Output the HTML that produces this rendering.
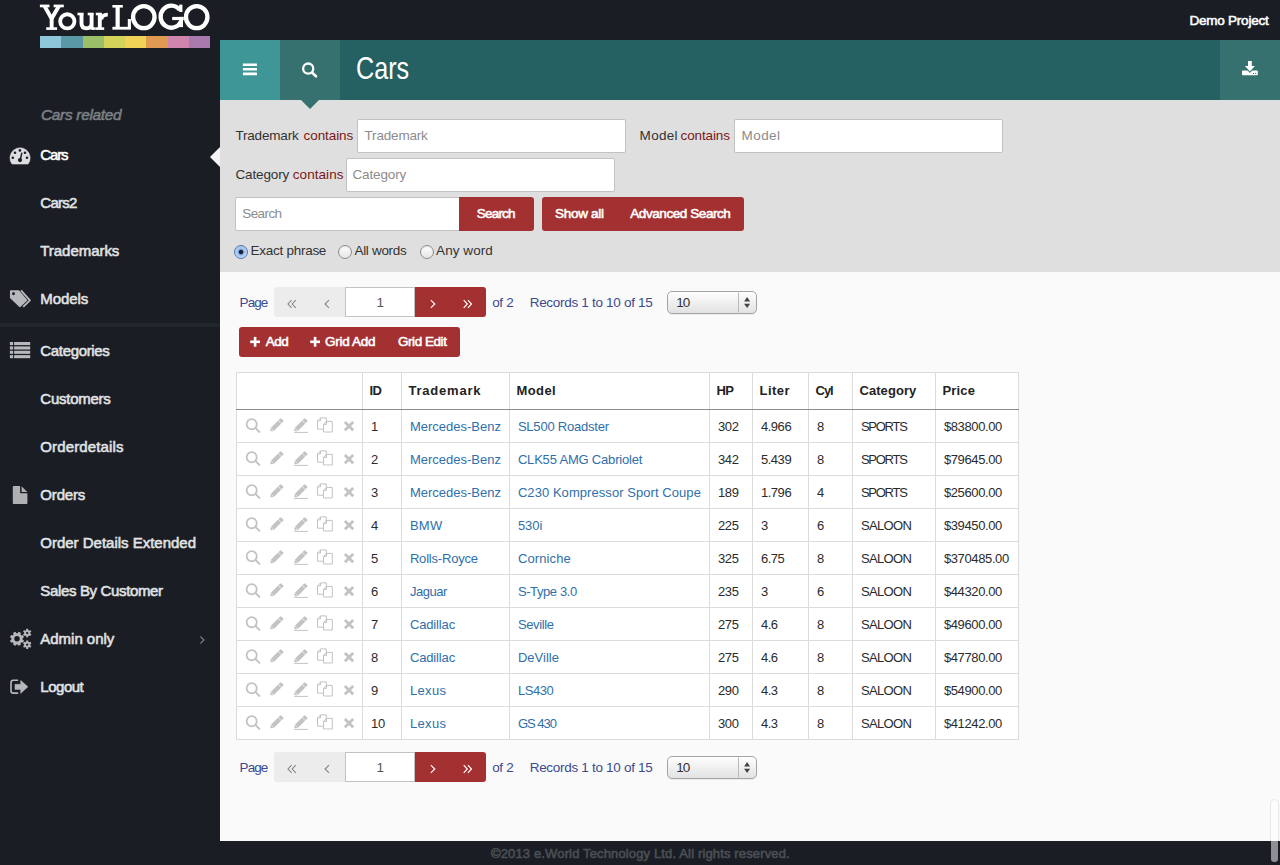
<!DOCTYPE html>
<html>
<head>
<meta charset="utf-8">
<title>Cars</title>
<style>
*{box-sizing:border-box;margin:0;padding:0}
html,body{width:1280px;height:865px;overflow:hidden}
body{background:#1a1e24;font-family:"Liberation Sans",sans-serif;font-size:13.5px;color:#333;position:relative}
.abs{position:absolute}
.t{position:absolute;white-space:nowrap;line-height:1}
svg{position:absolute;overflow:visible}
#strip{left:40px;top:36px;width:170px;height:12px;display:flex}
#strip i{display:block;flex:1}
.sb{-webkit-text-stroke:0.55px currentColor}
#demo{left:1189.5px;top:13.5px;font-size:13.5px;color:#fff}
.nav{left:40.3px;font-size:15px;color:#e1e3e5}
#sep{left:0;top:323px;width:220px;height:4px;background:#20262c}
#hdr{left:220px;top:40px;width:1060px;height:60px;background:#256162}
#bmenu{left:220px;top:40px;width:60px;height:60px;background:#3e9697}
#bsearch{left:280px;top:40px;width:60px;height:60px;background:#36706f}
#bdl{left:1220px;top:40px;width:60px;height:60px;background:#36706f}
#title{left:356.3px;top:53px;font-size:31.3px;color:#fff;transform:scaleX(.805);transform-origin:0 0}
#sp{left:220px;top:100px;width:1060px;height:172px;background:#dfdfdf}
#arrow{left:301px;top:100px;width:0;height:0;border-left:9px solid transparent;border-right:9px solid transparent;border-top:9px solid #36706f}
.inp{position:absolute;background:#fff;border:1px solid #c2c2c2;border-radius:2px;height:34px}
.ph{font-size:13.5px;color:#8c8c8c}
.lbl{font-size:13.5px;color:#333}
.red{color:#7a1717}
.btn{position:absolute;background:#a43131}
.bt{color:#fff;font-size:13.5px}
#main{left:220px;top:272px;width:1060px;height:569px;background:#fafafa}
.pg{color:#3b4b8f;font-size:13.5px}
.radio{width:14px;height:14px;border-radius:50%;background:linear-gradient(#fff,#e4e4e4);border:1px solid #8e8e8e;box-shadow:inset 0 1px 1px rgba(0,0,0,.12)}
.radio.on{background:radial-gradient(circle at 50% 50%,#16223c 0 1.8px,#8fb8ea 2.8px,#cfe2f8 6.5px);border-color:#4c79b8}
.chev{font-size:18px}
.sel{width:90px;height:22.5px;border:1px solid #a4a4a4;border-radius:5px;background:linear-gradient(#fefefe,#e2e2e2);box-shadow:0 1px 0 rgba(0,0,0,.05)}
table{position:absolute;left:236px;top:372px;border-collapse:collapse;table-layout:fixed;background:#fff;font-size:13px}
td,th{border:1px solid #dcdcdc;height:33px;padding:0 0 0 7.9px;text-align:left;white-space:nowrap;overflow:hidden;vertical-align:middle;position:relative}
th{height:37px;border-bottom:1px solid #8c8c8c;font-weight:bold;color:#222;padding-left:6.5px;font-size:13px}
td a{color:#2f6fab;text-decoration:none}
td{color:#2b2b2b}
td span,th span{position:relative;display:inline-block}
th span{top:-.3px}
</style>
</head>
<body>
<svg style="left:30px;top:0" width="190" height="36" viewBox="30 0 190 36"><g fill="none" stroke="#fff" stroke-width="3.9"><path d="M44.5,6 L51.65,18.6 L59.0,6" stroke-linejoin="miter"/><path d="M51.65,17.5 L51.65,28"/><ellipse cx="67.3" cy="21.35" rx="7.15" ry="7.1" stroke-width="3.8"/><path d="M81.5,13 L81.5,23.2 Q81.5,28.3 86.5,28.3 Q91.6,28.3 91.6,23.2 M91.6,13 L91.6,29.5" stroke-width="3.9"/><path d="M99.8,13 L99.8,28.5"/><path d="M101.3,19.5 Q101.8,14.5 107.8,14.6" stroke-width="3.7"/><path d="M117.65,5.5 L117.65,28" stroke-width="4.2"/><ellipse cx="143.8" cy="17.1" rx="10.75" ry="11.0" stroke-width="4.3"/><path d="M179.8,9.9 A10.75,11.0 0 1,0 181.1,21.3" stroke-width="4.3"/><ellipse cx="196.7" cy="17.1" rx="10.75" ry="11.0" stroke-width="4.3"/></g><g fill="#fff"><rect x="39.9" y="4.6" width="9.6" height="2.7"/><rect x="53.6" y="4.6" width="10.2" height="2.7"/><rect x="46.2" y="27.3" width="10.9" height="2.6"/><rect x="77.5" y="12.7" width="5.9" height="2.6"/><rect x="87.7" y="12.7" width="5.8" height="2.6"/><rect x="91.5" y="27.3" width="4" height="2.6"/><rect x="95.8" y="12.7" width="5.9" height="2.6"/><rect x="95.4" y="27.3" width="8.8" height="2.6"/><rect x="112.4" y="5" width="10.4" height="2.6"/><rect x="112.4" y="26.8" width="18.5" height="2.85"/><rect x="127.8" y="19" width="3.1" height="10"/><rect x="179.2" y="4.6" width="3.2" height="7.4"/><rect x="172.2" y="16.9" width="11.6" height="3.2"/><rect x="179.2" y="16.9" width="3.8" height="10.2"/></g></svg>
<div class="abs" id="strip"><i style="background:#8fc7da"></i><i style="background:#5b98a6"></i><i style="background:#9bbf68"></i><i style="background:#d3d35a"></i><i style="background:#f0d257"></i><i style="background:#e19a52"></i><i style="background:#cf84ad"></i><i style="background:#a978ad"></i></div>
<div class="t sb" id="demo" style="letter-spacing:-0.236px">Demo Project</div>
<div class="t sb" id="crel" style="left:41px;top:107.1px;font-size:15.4px;font-style:italic;color:#7b8085;letter-spacing:-0.291px">Cars related</div>
<div class="t nav sb" id="n_Cars" style="top:147.0px;color:#fff;letter-spacing:-1.133px">Cars</div>
<div class="t nav sb" id="n_Cars2" style="top:195.0px;letter-spacing:-0.750px">Cars2</div>
<div class="t nav sb" id="n_Trademarks" style="top:243.0px;letter-spacing:-0.044px">Trademarks</div>
<div class="t nav sb" id="n_Models" style="top:291.0px;letter-spacing:-0.080px">Models</div>
<div class="t nav sb" id="n_Categories" style="top:343.0px;letter-spacing:-0.333px">Categories</div>
<div class="t nav sb" id="n_Customers" style="top:391.0px;letter-spacing:-0.250px">Customers</div>
<div class="t nav sb" id="n_Orderdetails" style="top:439.0px;letter-spacing:0.127px">Orderdetails</div>
<div class="t nav sb" id="n_Orders" style="top:487.0px;letter-spacing:-0.160px">Orders</div>
<div class="t nav sb" id="n_Order_Details_Extended" style="top:535.0px;letter-spacing:-0.010px">Order Details Extended</div>
<div class="t nav sb" id="n_Sales_By_Customer" style="top:583.0px;letter-spacing:-0.350px">Sales By Customer</div>
<div class="t nav sb" id="n_Admin_only" style="top:631.0px;letter-spacing:-0.022px">Admin only</div>
<div class="t nav sb" id="n_Logout" style="top:679.0px;letter-spacing:-0.480px">Logout</div>
<div class="abs" id="sep"></div>
<div class="abs" id="actarrow" style="left:210px;top:147px;width:0;height:0;border-top:10px solid transparent;border-bottom:10px solid transparent;border-right:10px solid #f4f4f4"></div>
<svg style="left:0;top:0" width="220" height="720" viewBox="0 0 220 720"><path d="M12.0,164.1 A10.15,10.15 0 1,1 28.1,164.1 Z" fill="#dcdde0" stroke="#dcdde0" stroke-width=".5" stroke-linejoin="round"/><circle cx="19.9" cy="150.4" r="1.3" fill="#1a1e24"/><circle cx="15" cy="152.7" r="1.3" fill="#1a1e24"/><circle cx="25" cy="152.7" r="1.3" fill="#1a1e24"/><circle cx="12.8" cy="157.7" r="1.3" fill="#1a1e24"/><circle cx="27" cy="157.7" r="1.3" fill="#1a1e24"/><path d="M21.75,153.3 L20.4,159" stroke="#1a1e24" stroke-width="1.5" stroke-linecap="round"/><circle cx="20" cy="160.1" r="2.1" fill="#1a1e24"/><path d="M10.7,290.9 L18.6,290.9 L26.5,300.3 L19.9,306.4 L10.7,297.6 Z" fill="#b6b8bb" stroke="#b6b8bb" stroke-width="1.5" stroke-linejoin="round"/><circle cx="13.5" cy="293.7" r="1.45" fill="#1a1e24"/><path d="M21.0,290.3 L29.9,300.4 L23.2,306.9" fill="none" stroke="#b6b8bb" stroke-width="1.9" stroke-linejoin="round"/><rect x="9.9" y="342.0" width="3.2" height="3.1" fill="#b6b8bb"/><rect x="14.1" y="342.0" width="16.1" height="3.1" fill="#b6b8bb"/><rect x="9.9" y="346.4" width="3.2" height="3.1" fill="#b6b8bb"/><rect x="14.1" y="346.4" width="16.1" height="3.1" fill="#b6b8bb"/><rect x="9.9" y="350.75" width="3.2" height="3.1" fill="#b6b8bb"/><rect x="14.1" y="350.75" width="16.1" height="3.1" fill="#b6b8bb"/><rect x="9.9" y="355.1" width="3.2" height="3.1" fill="#b6b8bb"/><rect x="14.1" y="355.1" width="16.1" height="3.1" fill="#b6b8bb"/><path d="M12.8,486.7 q0,-.8 .8,-.8 L20.1,485.9 L20.1,492.4 q0,.8 .8,.8 L27.4,493.2 L27.4,503.2 q0,.8 -.8,.8 L13.6,504 q-.8,0 -.8,-.8 Z" fill="#aeb0b3"/><path d="M21.6,486.3 L27.3,491.9 L21.6,491.9 Z" fill="#aeb0b3"/><path fill-rule="evenodd" d="M22.56,639.51 L23.98,640.39 L23.02,642.70 L21.40,642.32 L20.47,643.25 L20.85,644.87 L18.54,645.83 L17.66,644.41 L16.34,644.41 L15.46,645.83 L13.15,644.87 L13.53,643.25 L12.60,642.32 L10.98,642.70 L10.02,640.39 L11.44,639.51 L11.44,638.19 L10.02,637.31 L10.98,635.00 L12.60,635.38 L13.53,634.45 L13.15,632.83 L15.46,631.87 L16.34,633.29 L17.66,633.29 L18.54,631.87 L20.85,632.83 L20.47,634.45 L21.40,635.38 L23.02,635.00 L23.98,637.31 L22.56,638.19Z M14.25,638.85 a2.75,2.75 0 1,0 5.5,0 a2.75,2.75 0 1,0 -5.5,0Z" fill="#b6b8bb"/><path fill-rule="evenodd" d="M28.29,635.95 L28.19,637.29 L26.21,637.29 L26.11,635.95 L25.23,635.45 L24.03,636.03 L23.04,634.31 L24.14,633.55 L24.14,632.55 L23.04,631.79 L24.03,630.07 L25.23,630.65 L26.11,630.15 L26.21,628.81 L28.19,628.81 L28.29,630.15 L29.17,630.65 L30.37,630.07 L31.36,631.79 L30.26,632.55 L30.26,633.55 L31.36,634.31 L30.37,636.03 L29.17,635.45Z M26.05,633.05 a1.15,1.15 0 1,0 2.3,0 a1.15,1.15 0 1,0 -2.3,0Z" fill="#b6b8bb"/><path fill-rule="evenodd" d="M28.29,647.60 L28.19,648.94 L26.21,648.94 L26.11,647.60 L25.23,647.10 L24.03,647.68 L23.04,645.96 L24.14,645.20 L24.14,644.20 L23.04,643.44 L24.03,641.72 L25.23,642.30 L26.11,641.80 L26.21,640.46 L28.19,640.46 L28.29,641.80 L29.17,642.30 L30.37,641.72 L31.36,643.44 L30.26,644.20 L30.26,645.20 L31.36,645.96 L30.37,647.68 L29.17,647.10Z M26.05,644.70 a1.15,1.15 0 1,0 2.3,0 a1.15,1.15 0 1,0 -2.3,0Z" fill="#b6b8bb"/><path d="M200.4,636.5 L204,640 L200.4,643.5" fill="none" stroke="#7d8186" stroke-width="1.1"/><path d="M17.6,680.3 L13.4,680.3 Q11,680.3 11,682.7 L11,690.7 Q11,693.1 13.4,693.1 L17.6,693.1" fill="none" stroke="#b6b8bb" stroke-width="1.6" stroke-linecap="round"/><path d="M14.9,684.3 L20.6,684.3 L20.6,680.3 L28.0,686.85 L20.6,693.5 L20.6,689.4 L14.9,689.4 Z" fill="#b6b8bb" stroke="#b6b8bb" stroke-width=".4" stroke-linejoin="round"/></svg>
<div class="abs" id="hdr"></div>
<div class="abs" id="bmenu"></div>
<div class="abs" id="bsearch"></div>
<div class="abs" id="bdl"></div>
<svg style="left:220px;top:40px" width="1060" height="60" viewBox="220 40 1060 60"><rect x="242.9" y="63.5" width="14.1" height="2.6" rx=".3" fill="#fff"/><rect x="242.9" y="67.9" width="14.1" height="2.6" rx=".3" fill="#fff"/><rect x="242.9" y="72.6" width="14.1" height="2.6" rx=".3" fill="#fff"/><circle cx="308.2" cy="68.6" r="5.1" fill="none" stroke="#fff" stroke-width="2.3"/><path d="M312.2,72.7 L316,76.3" stroke="#fff" stroke-width="2.6" stroke-linecap="round"/><rect x="1242" y="70.4" width="15.8" height="4.9" rx=".8" fill="#fff"/><path d="M1243.4,66 L1249.9,73 L1256.4,66Z" fill="#36706f"/><path d="M1248,61 L1251.8,61 L1251.8,66 L1254.9,66 L1249.9,71.4 L1244.9,66 L1248,66 Z" fill="#fff"/><circle cx="1253.4" cy="73.4" r=".6" fill="#36706f"/><circle cx="1255.7" cy="73.4" r=".6" fill="#36706f"/></svg>
<div class="t" id="title" style="">Cars</div>
<div class="abs" id="sp"></div>
<div class="abs" id="arrow"></div>
<div class="t lbl" id="l1a" style="left:235.4px;top:129px;letter-spacing:-0.175px">Trademark</div>
<div class="t lbl red" id="l1b" style="left:303.6px;top:129px;letter-spacing:-0.086px">contains</div>
<div class="inp" style="left:357px;top:119px;width:269px"></div>
<div class="t ph" id="p1" style="left:364.5px;top:129px;letter-spacing:-0.175px">Trademark</div>
<div class="t lbl" id="l2a" style="left:639.6px;top:129px;letter-spacing:0.300px">Model</div>
<div class="t lbl red" id="l2b" style="left:680.6px;top:129px;letter-spacing:-0.143px">contains</div>
<div class="inp" style="left:734px;top:119px;width:269px"></div>
<div class="t ph" id="p2" style="left:741.5px;top:129px;letter-spacing:0.450px">Model</div>
<div class="t lbl" id="l3a" style="left:235.4px;top:168px;letter-spacing:-0.114px">Category</div>
<div class="t lbl red" id="l3b" style="left:292.8px;top:168px;letter-spacing:0.057px">contains</div>
<div class="inp" style="left:346px;top:158px;width:269px"></div>
<div class="t ph" id="p3" style="left:352.5px;top:168px;letter-spacing:-0.143px">Category</div>
<div class="inp" style="left:235px;top:197px;width:225px;border-radius:2px 0 0 2px"></div>
<div class="t ph" id="p4" style="left:242.3px;top:207px;letter-spacing:-0.600px">Search</div>
<div class="btn" style="left:459px;top:197px;width:75px;height:34px;border-radius:0 3px 3px 0"></div>
<div class="t bt sb" id="bsrch" style="left:476.8px;top:207.3px;letter-spacing:-0.800px">Search</div>
<div class="btn" style="left:542px;top:197px;width:202px;height:34px;border-radius:3px"></div>
<div class="t bt sb" id="showall" style="left:555px;top:207.3px;letter-spacing:-0.286px">Show all</div>
<div class="t bt sb" id="advs" style="left:630.3px;top:207.3px;letter-spacing:-0.429px">Advanced Search</div>
<div class="abs radio on" style="left:234px;top:245px"></div>
<div class="t lbl" id="r1" style="left:250.6px;top:243.5px;letter-spacing:-0.273px">Exact phrase</div>
<div class="abs radio" style="left:338px;top:245px"></div>
<div class="t lbl" id="r2" style="left:354.5px;top:243.5px;letter-spacing:-0.325px">All words</div>
<div class="abs radio" style="left:420px;top:245px"></div>
<div class="t lbl" id="r3" style="left:436.1px;top:243.5px;letter-spacing:0.057px">Any word</div>
<div class="abs" id="main"></div>
<div class="t pg" id="pg1" style="left:239.6px;top:295.5px;letter-spacing:-0.933px">Page</div>
<div class="abs" style="left:274px;top:287px;width:71px;height:29.5px;background:#ececec;border-radius:3px 0 0 3px"></div>
<div class="abs" style="left:345px;top:287px;width:70px;height:29.5px;background:#fff;border:1px solid #c2c2c2"></div>
<div class="t lbl" id="one1" style="left:376.5px;top:295.5px;color:#555">1</div>
<div class="abs" style="left:415px;top:287px;width:71px;height:29.5px;background:#a43131;border-radius:0 3px 3px 0"></div>
<svg style="left:274px;top:287px" width="212" height="30" viewBox="274 287 212 30"><g fill="none" stroke="#828282" stroke-width="1.05"><path d="M291.6,300.2 L288,304 L291.6,307.8"/><path d="M295.8,300.2 L292.2,304 L295.8,307.8"/><path d="M329,300.2 L325.1,304 L329,307.8"/></g><g fill="none" stroke="#fff" stroke-width="1.15"><path d="M430.8,300.2 L434.8,304 L430.8,307.8"/><path d="M463.7,300.2 L467.3,304 L463.7,307.8"/><path d="M467.9,300.2 L471.5,304 L467.9,307.8"/></g></svg>
<div class="t pg" id="of1" style="left:492.2px;top:295.5px;letter-spacing:-0.333px">of 2</div>
<div class="t pg" id="rec1" style="left:529.7px;top:295.5px;letter-spacing:-0.300px">Records 1 to 10 of 15</div>
<div class="abs sel" style="left:667px;top:291px"></div>
<div class="t lbl" id="ten1" style="left:676.2px;top:295.5px;letter-spacing:-0.900px;color:#333">10</div>
<svg style="left:667px;top:287px" width="90" height="30" viewBox="667 287 90 30"><path d="M738.5,292.5 L738.5,312.5" stroke="#b9b9b9" stroke-width="1"/><path d="M744.1,301.5 L750.1,301.5 L747.1,297.1Z M744.1,303.8 L750.1,303.8 L747.1,308Z" fill="#444"/></svg><div class="btn" style="left:239px;top:327px;width:221px;height:30px;border-radius:3px"></div>
<div class="t bt sb" id="add" style="left:265.8px;top:335.3px;letter-spacing:-0.500px">Add</div>
<div class="t bt sb" id="gadd" style="left:325px;top:335.3px;letter-spacing:-0.286px">Grid Add</div>
<div class="t bt sb" id="gedit" style="left:398px;top:335.3px;letter-spacing:-0.450px">Grid Edit</div>
<svg style="left:239px;top:327px" width="221" height="30" viewBox="239 327 221 30"><rect x="250.2" y="340.5" width="9.8" height="2.6" fill="#fff"/><rect x="253.79999999999998" y="336.9" width="2.6" height="9.8" fill="#fff"/><rect x="310.2" y="340.5" width="9.8" height="2.6" fill="#fff"/><rect x="313.8" y="336.9" width="2.6" height="9.8" fill="#fff"/></svg><table><colgroup><col style="width:126px"><col style="width:39px"><col style="width:108px"><col style="width:200px"><col style="width:43px"><col style="width:56px"><col style="width:44px"><col style="width:83px"><col style="width:83px"></colgroup>
<tr><th><span id="h0" style=""></span></th><th><span id="h1" style="letter-spacing:-0.600px">ID</span></th><th><span id="h2" style="letter-spacing:0.775px">Trademark</span></th><th><span id="h3" style="letter-spacing:0.400px">Model</span></th><th><span id="h4" style="letter-spacing:-0.600px">HP</span></th><th><span id="h5" style="letter-spacing:0.450px">Liter</span></th><th><span id="h6" style="letter-spacing:-1.000px">Cyl</span></th><th><span id="h7" style="letter-spacing:0.057px">Category</span></th><th><span id="h8" style="letter-spacing:0.150px">Price</span></th></tr>
<tr><td></td><td><span id="c0_0" style="">1</span></td><td><a><span id="c0_1" style="">Mercedes-Benz</span></a></td><td><a><span id="c0_2" style="letter-spacing:-0.215px">SL500 Roadster</span></a></td><td><span id="c0_3" style="letter-spacing:-0.300px">302</span></td><td><span id="c0_4" style="letter-spacing:-0.450px">4.966</span></td><td><span id="c0_5" style="">8</span></td><td><span id="c0_6" style="letter-spacing:-1.240px">SPORTS</span></td><td><span id="c0_7" style="letter-spacing:-0.375px">$83800.00</span></td></tr>
<tr><td></td><td><span id="c1_0" style="">2</span></td><td><a><span id="c1_1" style="">Mercedes-Benz</span></a></td><td><a><span id="c1_2" style="letter-spacing:-0.189px">CLK55 AMG Cabriolet</span></a></td><td><span id="c1_3" style="letter-spacing:-0.300px">342</span></td><td><span id="c1_4" style="letter-spacing:-0.450px">5.439</span></td><td><span id="c1_5" style="">8</span></td><td><span id="c1_6" style="letter-spacing:-1.240px">SPORTS</span></td><td><span id="c1_7" style="letter-spacing:-0.375px">$79645.00</span></td></tr>
<tr><td></td><td><span id="c2_0" style="">3</span></td><td><a><span id="c2_1" style="">Mercedes-Benz</span></a></td><td><a><span id="c2_2" style="letter-spacing:0.062px">C230 Kompressor Sport Coupe</span></a></td><td><span id="c2_3" style="letter-spacing:-0.300px">189</span></td><td><span id="c2_4" style="letter-spacing:-0.450px">1.796</span></td><td><span id="c2_5" style="">4</span></td><td><span id="c2_6" style="letter-spacing:-1.240px">SPORTS</span></td><td><span id="c2_7" style="letter-spacing:-0.375px">$25600.00</span></td></tr>
<tr><td></td><td><span id="c3_0" style="">4</span></td><td><a><span id="c3_1" style="letter-spacing:0.250px">BMW</span></a></td><td><a><span id="c3_2" style="letter-spacing:-0.067px">530i</span></a></td><td><span id="c3_3" style="letter-spacing:-0.300px">225</span></td><td><span id="c3_4" style="letter-spacing:-0.450px">3</span></td><td><span id="c3_5" style="">6</span></td><td><span id="c3_6" style="letter-spacing:-0.630px">SALOON</span></td><td><span id="c3_7" style="letter-spacing:-0.375px">$39450.00</span></td></tr>
<tr><td></td><td><span id="c4_0" style="">5</span></td><td><a><span id="c4_1" style="letter-spacing:-0.190px">Rolls-Royce</span></a></td><td><a><span id="c4_2" style="letter-spacing:0.114px">Corniche</span></a></td><td><span id="c4_3" style="letter-spacing:-0.300px">325</span></td><td><span id="c4_4" style="letter-spacing:-0.450px">6.75</span></td><td><span id="c4_5" style="">8</span></td><td><span id="c4_6" style="letter-spacing:-0.630px">SALOON</span></td><td><span id="c4_7" style="letter-spacing:-0.375px">$370485.00</span></td></tr>
<tr><td></td><td><span id="c5_0" style="">6</span></td><td><a><span id="c5_1" style="letter-spacing:-0.440px">Jaguar</span></a></td><td><a><span id="c5_2" style="letter-spacing:-0.400px">S-Type 3.0</span></a></td><td><span id="c5_3" style="letter-spacing:-0.300px">235</span></td><td><span id="c5_4" style="letter-spacing:-0.450px">3</span></td><td><span id="c5_5" style="">6</span></td><td><span id="c5_6" style="letter-spacing:-0.630px">SALOON</span></td><td><span id="c5_7" style="letter-spacing:-0.375px">$44320.00</span></td></tr>
<tr><td></td><td><span id="c6_0" style="">7</span></td><td><a><span id="c6_1" style="letter-spacing:-0.143px">Cadillac</span></a></td><td><a><span id="c6_2" style="letter-spacing:-0.350px">Seville</span></a></td><td><span id="c6_3" style="letter-spacing:-0.300px">275</span></td><td><span id="c6_4" style="letter-spacing:-0.450px">4.6</span></td><td><span id="c6_5" style="">8</span></td><td><span id="c6_6" style="letter-spacing:-0.630px">SALOON</span></td><td><span id="c6_7" style="letter-spacing:-0.375px">$49600.00</span></td></tr>
<tr><td></td><td><span id="c7_0" style="">8</span></td><td><a><span id="c7_1" style="letter-spacing:-0.143px">Cadillac</span></a></td><td><a><span id="c7_2" style="letter-spacing:0.017px">DeVille</span></a></td><td><span id="c7_3" style="letter-spacing:-0.300px">275</span></td><td><span id="c7_4" style="letter-spacing:-0.450px">4.6</span></td><td><span id="c7_5" style="">8</span></td><td><span id="c7_6" style="letter-spacing:-0.630px">SALOON</span></td><td><span id="c7_7" style="letter-spacing:-0.375px">$47780.00</span></td></tr>
<tr><td></td><td><span id="c8_0" style="">9</span></td><td><a><span id="c8_1" style="letter-spacing:0.350px">Lexus</span></a></td><td><a><span id="c8_2" style="letter-spacing:-0.450px">LS430</span></a></td><td><span id="c8_3" style="letter-spacing:-0.300px">290</span></td><td><span id="c8_4" style="letter-spacing:-0.450px">4.3</span></td><td><span id="c8_5" style="">8</span></td><td><span id="c8_6" style="letter-spacing:-0.630px">SALOON</span></td><td><span id="c8_7" style="letter-spacing:-0.375px">$54900.00</span></td></tr>
<tr><td></td><td><span id="c9_0" style="">10</span></td><td><a><span id="c9_1" style="letter-spacing:0.350px">Lexus</span></a></td><td><a><span id="c9_2" style="letter-spacing:-0.980px">GS 430</span></a></td><td><span id="c9_3" style="letter-spacing:-0.300px">300</span></td><td><span id="c9_4" style="letter-spacing:-0.450px">4.3</span></td><td><span id="c9_5" style="">8</span></td><td><span id="c9_6" style="letter-spacing:-0.630px">SALOON</span></td><td><span id="c9_7" style="letter-spacing:-0.375px">$41242.00</span></td></tr>
</table><svg style="left:237px;top:410px" width="125" height="330" viewBox="237 410 125 330"><g transform="translate(0,0)"><circle cx="251.7" cy="424.2" r="5.05" fill="none" stroke="#c3c3c3" stroke-width="1.8"/><path d="M255.6,428.1 L259.4,431.9" stroke="#c3c3c3" stroke-width="2.0" stroke-linecap="round"/><path d="M270.38,431.32 L273.81,431.07 L283.29,421.59 L283.29,420.46 L281.24,418.41 L280.11,418.41 L270.63,427.89Z" fill="#c3c3c3"/><path d="M281.52,423.79 L277.91,420.18" stroke="#fff" stroke-width=".7"/><path d="M274.17,431.14 L270.56,427.53" stroke="#fff" stroke-width=".5"/><path d="M294.38,431.32 L297.81,431.07 L307.29,421.59 L307.29,420.46 L305.24,418.41 L304.11,418.41 L294.63,427.89Z" fill="#c3c3c3"/><path d="M305.52,423.79 L301.91,420.18" stroke="#fff" stroke-width=".7"/><path d="M298.17,431.14 L294.56,427.53" stroke="#fff" stroke-width=".5"/><path d="M294.2,432.4 L308,432.4" stroke="#c3c3c3" stroke-width="1"/><path d="M320.5,417.9 L326.3,417.9 L326.3,429.2 L317.5,429.2 L317.5,420.9 Z M317.5,420.9 L320.5,420.9 L320.5,417.9" fill="#fff" stroke="#c3c3c3" stroke-width="1" stroke-linejoin="round"/><path d="M326.5,421.4 L332.3,421.4 L332.3,432.0 L323.5,432.0 L323.5,424.4 Z M323.5,424.4 L326.5,424.4 L326.5,421.4" fill="#fff" stroke="#c3c3c3" stroke-width="1" stroke-linejoin="round"/><path d="M344.9,421.9 L353.2,430.2 M353.2,421.9 L344.9,430.2" stroke="#c3c3c3" stroke-width="2.8"/></g><g transform="translate(0,33)"><circle cx="251.7" cy="424.2" r="5.05" fill="none" stroke="#c3c3c3" stroke-width="1.8"/><path d="M255.6,428.1 L259.4,431.9" stroke="#c3c3c3" stroke-width="2.0" stroke-linecap="round"/><path d="M270.38,431.32 L273.81,431.07 L283.29,421.59 L283.29,420.46 L281.24,418.41 L280.11,418.41 L270.63,427.89Z" fill="#c3c3c3"/><path d="M281.52,423.79 L277.91,420.18" stroke="#fff" stroke-width=".7"/><path d="M274.17,431.14 L270.56,427.53" stroke="#fff" stroke-width=".5"/><path d="M294.38,431.32 L297.81,431.07 L307.29,421.59 L307.29,420.46 L305.24,418.41 L304.11,418.41 L294.63,427.89Z" fill="#c3c3c3"/><path d="M305.52,423.79 L301.91,420.18" stroke="#fff" stroke-width=".7"/><path d="M298.17,431.14 L294.56,427.53" stroke="#fff" stroke-width=".5"/><path d="M294.2,432.4 L308,432.4" stroke="#c3c3c3" stroke-width="1"/><path d="M320.5,417.9 L326.3,417.9 L326.3,429.2 L317.5,429.2 L317.5,420.9 Z M317.5,420.9 L320.5,420.9 L320.5,417.9" fill="#fff" stroke="#c3c3c3" stroke-width="1" stroke-linejoin="round"/><path d="M326.5,421.4 L332.3,421.4 L332.3,432.0 L323.5,432.0 L323.5,424.4 Z M323.5,424.4 L326.5,424.4 L326.5,421.4" fill="#fff" stroke="#c3c3c3" stroke-width="1" stroke-linejoin="round"/><path d="M344.9,421.9 L353.2,430.2 M353.2,421.9 L344.9,430.2" stroke="#c3c3c3" stroke-width="2.8"/></g><g transform="translate(0,66)"><circle cx="251.7" cy="424.2" r="5.05" fill="none" stroke="#c3c3c3" stroke-width="1.8"/><path d="M255.6,428.1 L259.4,431.9" stroke="#c3c3c3" stroke-width="2.0" stroke-linecap="round"/><path d="M270.38,431.32 L273.81,431.07 L283.29,421.59 L283.29,420.46 L281.24,418.41 L280.11,418.41 L270.63,427.89Z" fill="#c3c3c3"/><path d="M281.52,423.79 L277.91,420.18" stroke="#fff" stroke-width=".7"/><path d="M274.17,431.14 L270.56,427.53" stroke="#fff" stroke-width=".5"/><path d="M294.38,431.32 L297.81,431.07 L307.29,421.59 L307.29,420.46 L305.24,418.41 L304.11,418.41 L294.63,427.89Z" fill="#c3c3c3"/><path d="M305.52,423.79 L301.91,420.18" stroke="#fff" stroke-width=".7"/><path d="M298.17,431.14 L294.56,427.53" stroke="#fff" stroke-width=".5"/><path d="M294.2,432.4 L308,432.4" stroke="#c3c3c3" stroke-width="1"/><path d="M320.5,417.9 L326.3,417.9 L326.3,429.2 L317.5,429.2 L317.5,420.9 Z M317.5,420.9 L320.5,420.9 L320.5,417.9" fill="#fff" stroke="#c3c3c3" stroke-width="1" stroke-linejoin="round"/><path d="M326.5,421.4 L332.3,421.4 L332.3,432.0 L323.5,432.0 L323.5,424.4 Z M323.5,424.4 L326.5,424.4 L326.5,421.4" fill="#fff" stroke="#c3c3c3" stroke-width="1" stroke-linejoin="round"/><path d="M344.9,421.9 L353.2,430.2 M353.2,421.9 L344.9,430.2" stroke="#c3c3c3" stroke-width="2.8"/></g><g transform="translate(0,99)"><circle cx="251.7" cy="424.2" r="5.05" fill="none" stroke="#c3c3c3" stroke-width="1.8"/><path d="M255.6,428.1 L259.4,431.9" stroke="#c3c3c3" stroke-width="2.0" stroke-linecap="round"/><path d="M270.38,431.32 L273.81,431.07 L283.29,421.59 L283.29,420.46 L281.24,418.41 L280.11,418.41 L270.63,427.89Z" fill="#c3c3c3"/><path d="M281.52,423.79 L277.91,420.18" stroke="#fff" stroke-width=".7"/><path d="M274.17,431.14 L270.56,427.53" stroke="#fff" stroke-width=".5"/><path d="M294.38,431.32 L297.81,431.07 L307.29,421.59 L307.29,420.46 L305.24,418.41 L304.11,418.41 L294.63,427.89Z" fill="#c3c3c3"/><path d="M305.52,423.79 L301.91,420.18" stroke="#fff" stroke-width=".7"/><path d="M298.17,431.14 L294.56,427.53" stroke="#fff" stroke-width=".5"/><path d="M294.2,432.4 L308,432.4" stroke="#c3c3c3" stroke-width="1"/><path d="M320.5,417.9 L326.3,417.9 L326.3,429.2 L317.5,429.2 L317.5,420.9 Z M317.5,420.9 L320.5,420.9 L320.5,417.9" fill="#fff" stroke="#c3c3c3" stroke-width="1" stroke-linejoin="round"/><path d="M326.5,421.4 L332.3,421.4 L332.3,432.0 L323.5,432.0 L323.5,424.4 Z M323.5,424.4 L326.5,424.4 L326.5,421.4" fill="#fff" stroke="#c3c3c3" stroke-width="1" stroke-linejoin="round"/><path d="M344.9,421.9 L353.2,430.2 M353.2,421.9 L344.9,430.2" stroke="#c3c3c3" stroke-width="2.8"/></g><g transform="translate(0,132)"><circle cx="251.7" cy="424.2" r="5.05" fill="none" stroke="#c3c3c3" stroke-width="1.8"/><path d="M255.6,428.1 L259.4,431.9" stroke="#c3c3c3" stroke-width="2.0" stroke-linecap="round"/><path d="M270.38,431.32 L273.81,431.07 L283.29,421.59 L283.29,420.46 L281.24,418.41 L280.11,418.41 L270.63,427.89Z" fill="#c3c3c3"/><path d="M281.52,423.79 L277.91,420.18" stroke="#fff" stroke-width=".7"/><path d="M274.17,431.14 L270.56,427.53" stroke="#fff" stroke-width=".5"/><path d="M294.38,431.32 L297.81,431.07 L307.29,421.59 L307.29,420.46 L305.24,418.41 L304.11,418.41 L294.63,427.89Z" fill="#c3c3c3"/><path d="M305.52,423.79 L301.91,420.18" stroke="#fff" stroke-width=".7"/><path d="M298.17,431.14 L294.56,427.53" stroke="#fff" stroke-width=".5"/><path d="M294.2,432.4 L308,432.4" stroke="#c3c3c3" stroke-width="1"/><path d="M320.5,417.9 L326.3,417.9 L326.3,429.2 L317.5,429.2 L317.5,420.9 Z M317.5,420.9 L320.5,420.9 L320.5,417.9" fill="#fff" stroke="#c3c3c3" stroke-width="1" stroke-linejoin="round"/><path d="M326.5,421.4 L332.3,421.4 L332.3,432.0 L323.5,432.0 L323.5,424.4 Z M323.5,424.4 L326.5,424.4 L326.5,421.4" fill="#fff" stroke="#c3c3c3" stroke-width="1" stroke-linejoin="round"/><path d="M344.9,421.9 L353.2,430.2 M353.2,421.9 L344.9,430.2" stroke="#c3c3c3" stroke-width="2.8"/></g><g transform="translate(0,165)"><circle cx="251.7" cy="424.2" r="5.05" fill="none" stroke="#c3c3c3" stroke-width="1.8"/><path d="M255.6,428.1 L259.4,431.9" stroke="#c3c3c3" stroke-width="2.0" stroke-linecap="round"/><path d="M270.38,431.32 L273.81,431.07 L283.29,421.59 L283.29,420.46 L281.24,418.41 L280.11,418.41 L270.63,427.89Z" fill="#c3c3c3"/><path d="M281.52,423.79 L277.91,420.18" stroke="#fff" stroke-width=".7"/><path d="M274.17,431.14 L270.56,427.53" stroke="#fff" stroke-width=".5"/><path d="M294.38,431.32 L297.81,431.07 L307.29,421.59 L307.29,420.46 L305.24,418.41 L304.11,418.41 L294.63,427.89Z" fill="#c3c3c3"/><path d="M305.52,423.79 L301.91,420.18" stroke="#fff" stroke-width=".7"/><path d="M298.17,431.14 L294.56,427.53" stroke="#fff" stroke-width=".5"/><path d="M294.2,432.4 L308,432.4" stroke="#c3c3c3" stroke-width="1"/><path d="M320.5,417.9 L326.3,417.9 L326.3,429.2 L317.5,429.2 L317.5,420.9 Z M317.5,420.9 L320.5,420.9 L320.5,417.9" fill="#fff" stroke="#c3c3c3" stroke-width="1" stroke-linejoin="round"/><path d="M326.5,421.4 L332.3,421.4 L332.3,432.0 L323.5,432.0 L323.5,424.4 Z M323.5,424.4 L326.5,424.4 L326.5,421.4" fill="#fff" stroke="#c3c3c3" stroke-width="1" stroke-linejoin="round"/><path d="M344.9,421.9 L353.2,430.2 M353.2,421.9 L344.9,430.2" stroke="#c3c3c3" stroke-width="2.8"/></g><g transform="translate(0,198)"><circle cx="251.7" cy="424.2" r="5.05" fill="none" stroke="#c3c3c3" stroke-width="1.8"/><path d="M255.6,428.1 L259.4,431.9" stroke="#c3c3c3" stroke-width="2.0" stroke-linecap="round"/><path d="M270.38,431.32 L273.81,431.07 L283.29,421.59 L283.29,420.46 L281.24,418.41 L280.11,418.41 L270.63,427.89Z" fill="#c3c3c3"/><path d="M281.52,423.79 L277.91,420.18" stroke="#fff" stroke-width=".7"/><path d="M274.17,431.14 L270.56,427.53" stroke="#fff" stroke-width=".5"/><path d="M294.38,431.32 L297.81,431.07 L307.29,421.59 L307.29,420.46 L305.24,418.41 L304.11,418.41 L294.63,427.89Z" fill="#c3c3c3"/><path d="M305.52,423.79 L301.91,420.18" stroke="#fff" stroke-width=".7"/><path d="M298.17,431.14 L294.56,427.53" stroke="#fff" stroke-width=".5"/><path d="M294.2,432.4 L308,432.4" stroke="#c3c3c3" stroke-width="1"/><path d="M320.5,417.9 L326.3,417.9 L326.3,429.2 L317.5,429.2 L317.5,420.9 Z M317.5,420.9 L320.5,420.9 L320.5,417.9" fill="#fff" stroke="#c3c3c3" stroke-width="1" stroke-linejoin="round"/><path d="M326.5,421.4 L332.3,421.4 L332.3,432.0 L323.5,432.0 L323.5,424.4 Z M323.5,424.4 L326.5,424.4 L326.5,421.4" fill="#fff" stroke="#c3c3c3" stroke-width="1" stroke-linejoin="round"/><path d="M344.9,421.9 L353.2,430.2 M353.2,421.9 L344.9,430.2" stroke="#c3c3c3" stroke-width="2.8"/></g><g transform="translate(0,231)"><circle cx="251.7" cy="424.2" r="5.05" fill="none" stroke="#c3c3c3" stroke-width="1.8"/><path d="M255.6,428.1 L259.4,431.9" stroke="#c3c3c3" stroke-width="2.0" stroke-linecap="round"/><path d="M270.38,431.32 L273.81,431.07 L283.29,421.59 L283.29,420.46 L281.24,418.41 L280.11,418.41 L270.63,427.89Z" fill="#c3c3c3"/><path d="M281.52,423.79 L277.91,420.18" stroke="#fff" stroke-width=".7"/><path d="M274.17,431.14 L270.56,427.53" stroke="#fff" stroke-width=".5"/><path d="M294.38,431.32 L297.81,431.07 L307.29,421.59 L307.29,420.46 L305.24,418.41 L304.11,418.41 L294.63,427.89Z" fill="#c3c3c3"/><path d="M305.52,423.79 L301.91,420.18" stroke="#fff" stroke-width=".7"/><path d="M298.17,431.14 L294.56,427.53" stroke="#fff" stroke-width=".5"/><path d="M294.2,432.4 L308,432.4" stroke="#c3c3c3" stroke-width="1"/><path d="M320.5,417.9 L326.3,417.9 L326.3,429.2 L317.5,429.2 L317.5,420.9 Z M317.5,420.9 L320.5,420.9 L320.5,417.9" fill="#fff" stroke="#c3c3c3" stroke-width="1" stroke-linejoin="round"/><path d="M326.5,421.4 L332.3,421.4 L332.3,432.0 L323.5,432.0 L323.5,424.4 Z M323.5,424.4 L326.5,424.4 L326.5,421.4" fill="#fff" stroke="#c3c3c3" stroke-width="1" stroke-linejoin="round"/><path d="M344.9,421.9 L353.2,430.2 M353.2,421.9 L344.9,430.2" stroke="#c3c3c3" stroke-width="2.8"/></g><g transform="translate(0,264)"><circle cx="251.7" cy="424.2" r="5.05" fill="none" stroke="#c3c3c3" stroke-width="1.8"/><path d="M255.6,428.1 L259.4,431.9" stroke="#c3c3c3" stroke-width="2.0" stroke-linecap="round"/><path d="M270.38,431.32 L273.81,431.07 L283.29,421.59 L283.29,420.46 L281.24,418.41 L280.11,418.41 L270.63,427.89Z" fill="#c3c3c3"/><path d="M281.52,423.79 L277.91,420.18" stroke="#fff" stroke-width=".7"/><path d="M274.17,431.14 L270.56,427.53" stroke="#fff" stroke-width=".5"/><path d="M294.38,431.32 L297.81,431.07 L307.29,421.59 L307.29,420.46 L305.24,418.41 L304.11,418.41 L294.63,427.89Z" fill="#c3c3c3"/><path d="M305.52,423.79 L301.91,420.18" stroke="#fff" stroke-width=".7"/><path d="M298.17,431.14 L294.56,427.53" stroke="#fff" stroke-width=".5"/><path d="M294.2,432.4 L308,432.4" stroke="#c3c3c3" stroke-width="1"/><path d="M320.5,417.9 L326.3,417.9 L326.3,429.2 L317.5,429.2 L317.5,420.9 Z M317.5,420.9 L320.5,420.9 L320.5,417.9" fill="#fff" stroke="#c3c3c3" stroke-width="1" stroke-linejoin="round"/><path d="M326.5,421.4 L332.3,421.4 L332.3,432.0 L323.5,432.0 L323.5,424.4 Z M323.5,424.4 L326.5,424.4 L326.5,421.4" fill="#fff" stroke="#c3c3c3" stroke-width="1" stroke-linejoin="round"/><path d="M344.9,421.9 L353.2,430.2 M353.2,421.9 L344.9,430.2" stroke="#c3c3c3" stroke-width="2.8"/></g><g transform="translate(0,297)"><circle cx="251.7" cy="424.2" r="5.05" fill="none" stroke="#c3c3c3" stroke-width="1.8"/><path d="M255.6,428.1 L259.4,431.9" stroke="#c3c3c3" stroke-width="2.0" stroke-linecap="round"/><path d="M270.38,431.32 L273.81,431.07 L283.29,421.59 L283.29,420.46 L281.24,418.41 L280.11,418.41 L270.63,427.89Z" fill="#c3c3c3"/><path d="M281.52,423.79 L277.91,420.18" stroke="#fff" stroke-width=".7"/><path d="M274.17,431.14 L270.56,427.53" stroke="#fff" stroke-width=".5"/><path d="M294.38,431.32 L297.81,431.07 L307.29,421.59 L307.29,420.46 L305.24,418.41 L304.11,418.41 L294.63,427.89Z" fill="#c3c3c3"/><path d="M305.52,423.79 L301.91,420.18" stroke="#fff" stroke-width=".7"/><path d="M298.17,431.14 L294.56,427.53" stroke="#fff" stroke-width=".5"/><path d="M294.2,432.4 L308,432.4" stroke="#c3c3c3" stroke-width="1"/><path d="M320.5,417.9 L326.3,417.9 L326.3,429.2 L317.5,429.2 L317.5,420.9 Z M317.5,420.9 L320.5,420.9 L320.5,417.9" fill="#fff" stroke="#c3c3c3" stroke-width="1" stroke-linejoin="round"/><path d="M326.5,421.4 L332.3,421.4 L332.3,432.0 L323.5,432.0 L323.5,424.4 Z M323.5,424.4 L326.5,424.4 L326.5,421.4" fill="#fff" stroke="#c3c3c3" stroke-width="1" stroke-linejoin="round"/><path d="M344.9,421.9 L353.2,430.2 M353.2,421.9 L344.9,430.2" stroke="#c3c3c3" stroke-width="2.8"/></g></svg><div class="t pg" id="pg2" style="left:239.6px;top:760.5px;letter-spacing:-0.933px">Page</div>
<div class="abs" style="left:274px;top:752px;width:71px;height:29.5px;background:#ececec;border-radius:3px 0 0 3px"></div>
<div class="abs" style="left:345px;top:752px;width:70px;height:29.5px;background:#fff;border:1px solid #c2c2c2"></div>
<div class="t lbl" id="one2" style="left:376.5px;top:760.5px;color:#555">1</div>
<div class="abs" style="left:415px;top:752px;width:71px;height:29.5px;background:#a43131;border-radius:0 3px 3px 0"></div>
<svg style="left:274px;top:752px" width="212" height="30" viewBox="274 287 212 30"><g fill="none" stroke="#828282" stroke-width="1.05"><path d="M291.6,300.2 L288,304 L291.6,307.8"/><path d="M295.8,300.2 L292.2,304 L295.8,307.8"/><path d="M329,300.2 L325.1,304 L329,307.8"/></g><g fill="none" stroke="#fff" stroke-width="1.15"><path d="M430.8,300.2 L434.8,304 L430.8,307.8"/><path d="M463.7,300.2 L467.3,304 L463.7,307.8"/><path d="M467.9,300.2 L471.5,304 L467.9,307.8"/></g></svg>
<div class="t pg" id="of2" style="left:492.2px;top:760.5px;letter-spacing:-0.333px">of 2</div>
<div class="t pg" id="rec2" style="left:529.7px;top:760.5px;letter-spacing:-0.300px">Records 1 to 10 of 15</div>
<div class="abs sel" style="left:667px;top:756px"></div>
<div class="t lbl" id="ten2" style="left:676.2px;top:760.5px;letter-spacing:-0.900px;color:#333">10</div>
<svg style="left:667px;top:752px" width="90" height="30" viewBox="667 287 90 30"><path d="M738.5,292.5 L738.5,312.5" stroke="#b9b9b9" stroke-width="1"/><path d="M744.1,301.5 L750.1,301.5 L747.1,297.1Z M744.1,303.8 L750.1,303.8 L747.1,308Z" fill="#444"/></svg><div class="abs" style="left:1271.3px;top:800px;width:6.4px;height:62px;background:rgba(255,255,255,.5);border-radius:3.2px;box-shadow:0 0 0 .6px rgba(0,0,0,.13);z-index:9"></div>
<div class="t sb" id="foot" style="left:491px;top:847px;font-size:13px;color:#4b5056;letter-spacing:0.143px">©2013 e.World Technology Ltd. All rights reserved.</div>
</body>
</html>
